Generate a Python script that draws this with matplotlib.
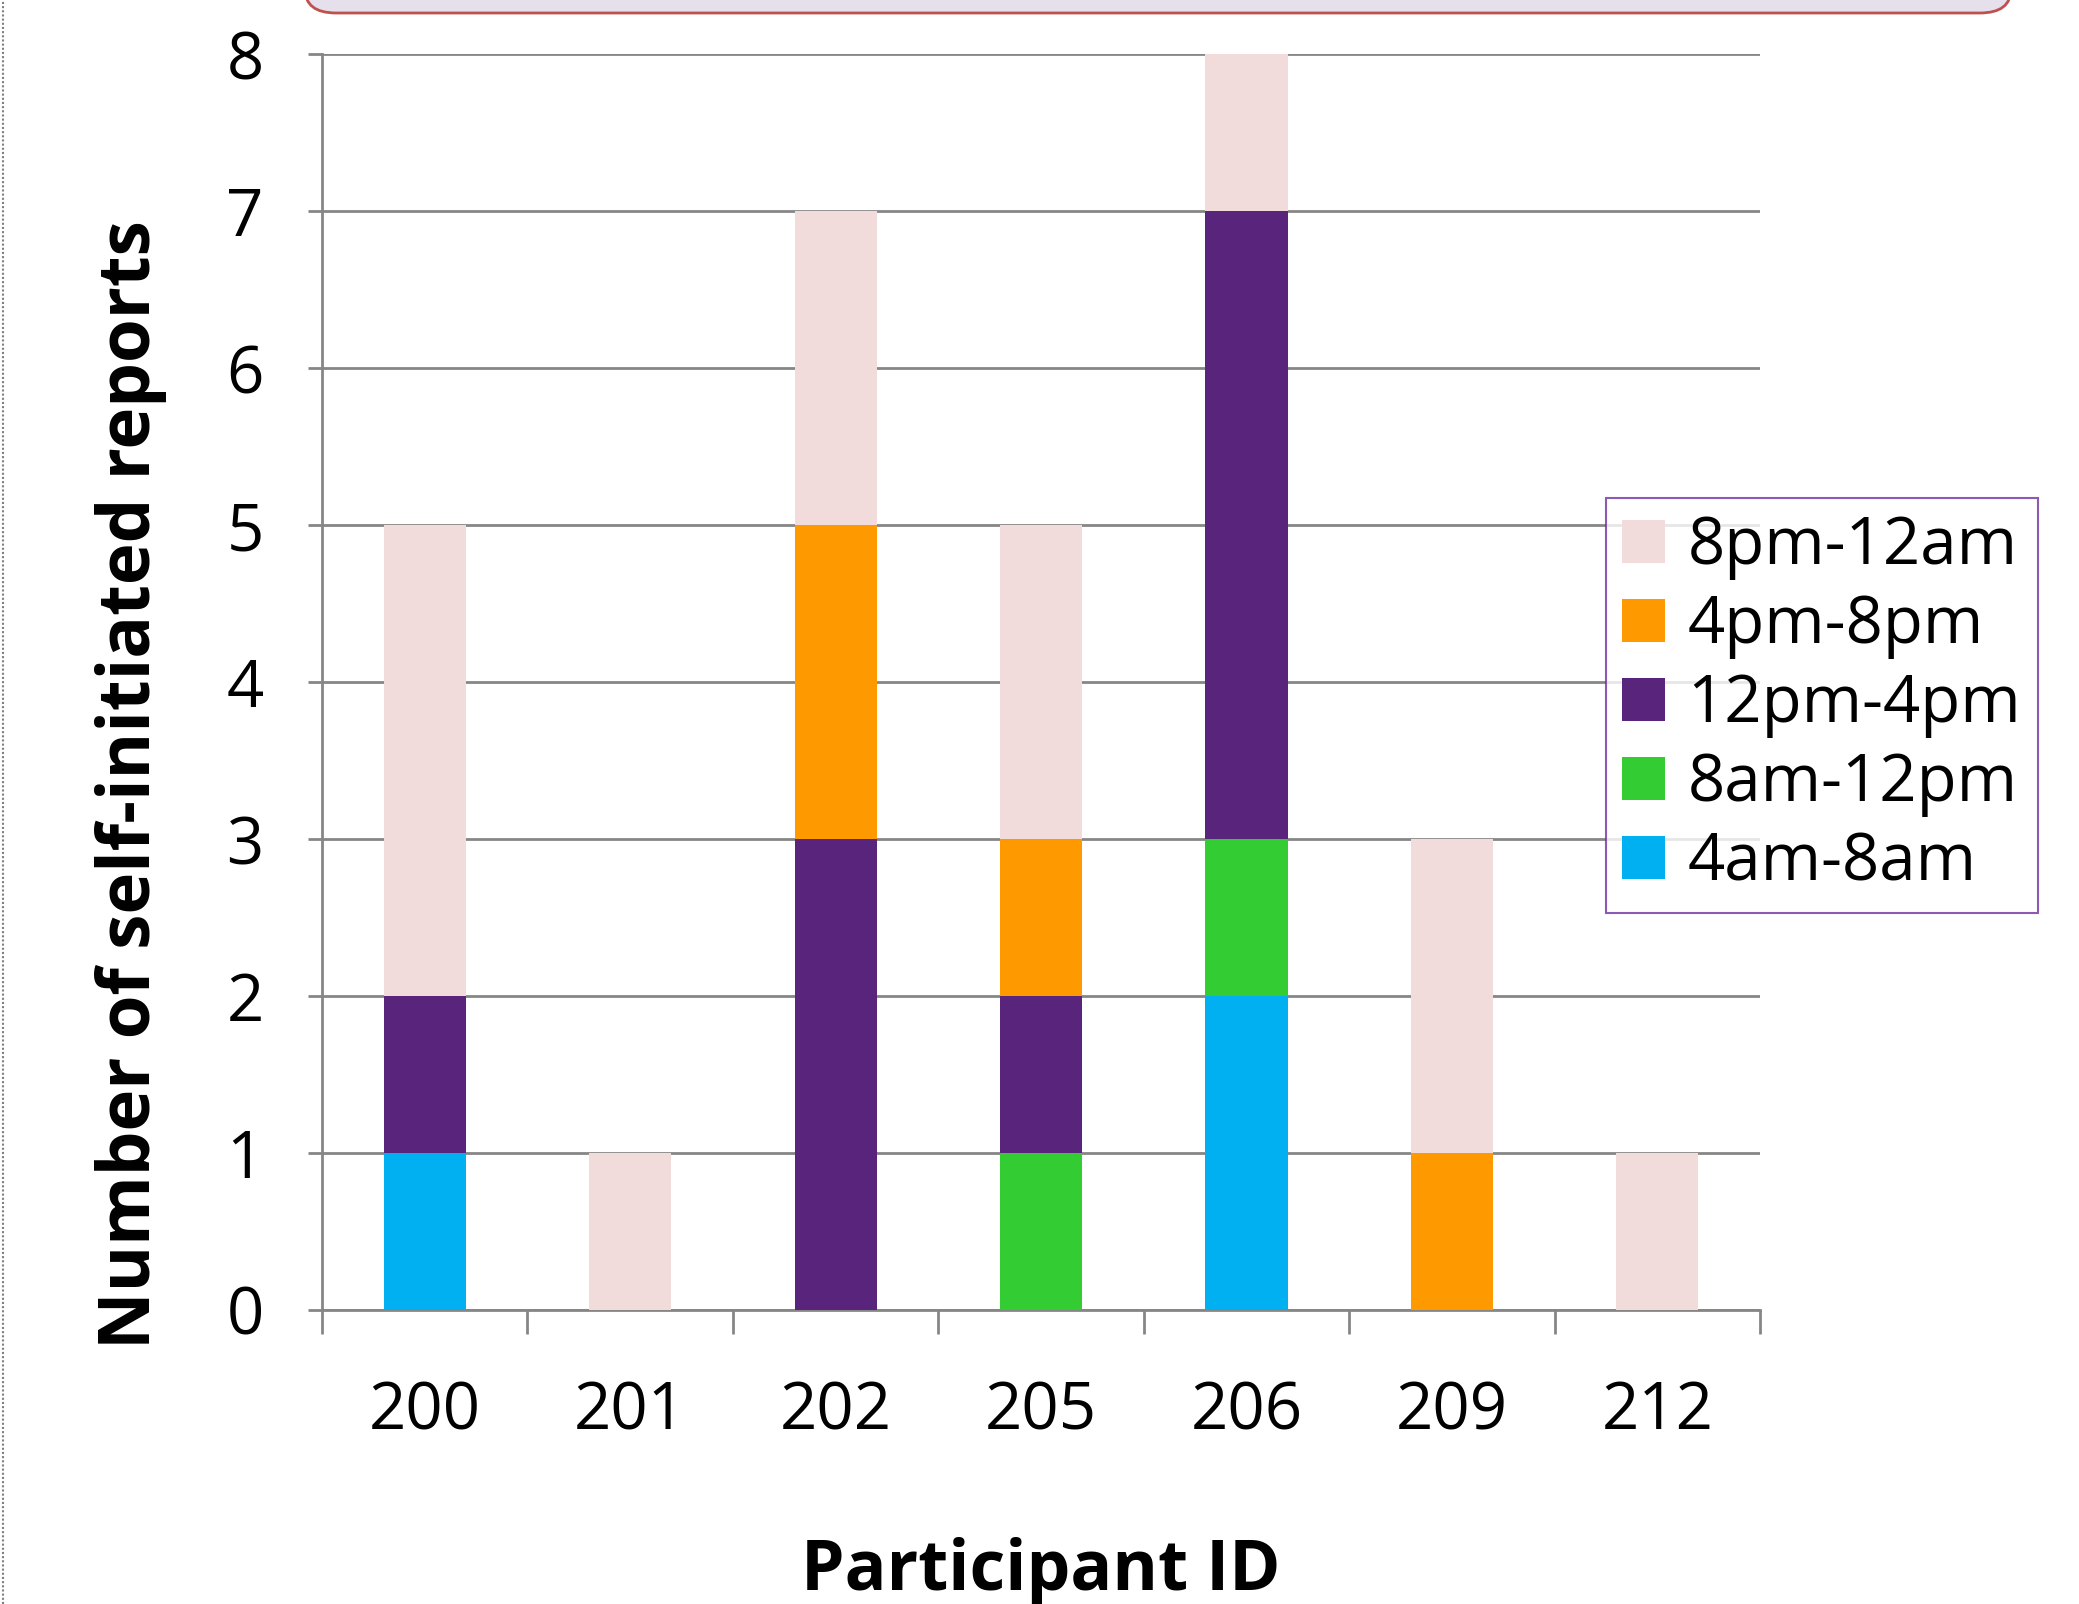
import matplotlib
matplotlib.use('Agg')
import matplotlib.pyplot as plt
import numpy as np
from matplotlib.patches import FancyBboxPatch
from matplotlib.lines import Line2D

plt.rcParams['font.family'] = ['Open Sans', 'DejaVu Sans']

participants = ['200', '201', '202', '205', '206', '209', '212']

# counts per time-of-day slot, stacked bottom to top
slot_names = ['4am-8am', '8am-12pm', '12pm-4pm', '4pm-8pm', '8pm-12am']
early_morning = [1, 0, 0, 0, 2, 0, 0]
morning = [0, 0, 0, 1, 1, 0, 0]
afternoon = [1, 0, 3, 1, 4, 0, 0]
evening = [0, 0, 2, 1, 0, 1, 0]
night = [3, 1, 2, 2, 1, 2, 1]
slot_colors = ['#00B0F0', '#33CC33', '#59257C', '#FF9900', '#F2DCDB']

fig = plt.figure(figsize=(20.79, 16.04), dpi=100)
ax = fig.add_axes([0.1549, 0.1833, 0.6917, 0.7830])

x = np.arange(len(participants))
bottom = np.zeros(len(participants))
handles = []
for name, vals, col in zip(slot_names, [early_morning, morning, afternoon, evening, night], slot_colors):
    vals = np.array(vals, dtype=float)
    b = ax.bar(x, vals, width=0.4, bottom=bottom, color=col, label=name, zorder=3)
    handles.append(b)
    bottom += vals

grid_col = '#868686'
ax.set_xlim(-0.5, len(participants) - 0.5)
ax.set_ylim(0, 8)
ax.set_yticks(range(9))
ax.yaxis.grid(True, color=grid_col, linewidth=2, zorder=0)
ax.set_axisbelow(True)

for side in ['top', 'right']:
    ax.spines[side].set_visible(False)
for side in ['left', 'bottom']:
    ax.spines[side].set_color(grid_col)
    ax.spines[side].set_linewidth(2)

ax.set_xticks(x)
ax.set_xticklabels(participants)
ax.set_xticks(np.arange(-0.5, len(participants)), minor=True)
ax.tick_params(axis='x', which='major', length=0, pad=50, labelsize=47)
ax.tick_params(axis='x', which='minor', length=17, width=2, color=grid_col, direction='out')
ax.tick_params(axis='y', length=10, width=2, color=grid_col, pad=32, labelsize=47)

ax.set_xlabel('Participant ID', fontsize=50, fontweight='bold', labelpad=66)
ax.set_ylabel('Number of self-initiated reports', fontsize=51, fontweight='bold', labelpad=43)
# y label sits a little below the middle of the axis
ax.yaxis.label.set_y(0.418)

leg = ax.legend(handles[::-1], slot_names[::-1], loc='upper left',
                bbox_to_anchor=(1606 / 2079, 1 - 498 / 1604), bbox_transform=fig.transFigure,
                fontsize=47, frameon=True, fancybox=False, handlelength=0.65, handleheight=0.65,
                handletextpad=0.35, labelspacing=0.2, borderpad=0.25, borderaxespad=0)
leg.get_frame().set_edgecolor('#7030A0')
leg.get_frame().set_linewidth(1.5)

# rounded header box running off the top of the figure
hdr = FancyBboxPatch((305 / 2079, 1 - 13 / 1604), 1706 / 2079, 0.05,
                     boxstyle='round,pad=0,rounding_size=0.015', transform=fig.transFigure,
                     facecolor='#E6E0EC', edgecolor='#C0504D', linewidth=2, clip_on=False)
fig.patches.append(hdr)

# dotted frame edge on the left
fig.add_artist(Line2D([0.0015, 0.0015], [0, 1], transform=fig.transFigure,
                      color='#808080', linestyle=(0, (1, 1)), linewidth=1.5))

fig.savefig('out.png', dpi=100)
